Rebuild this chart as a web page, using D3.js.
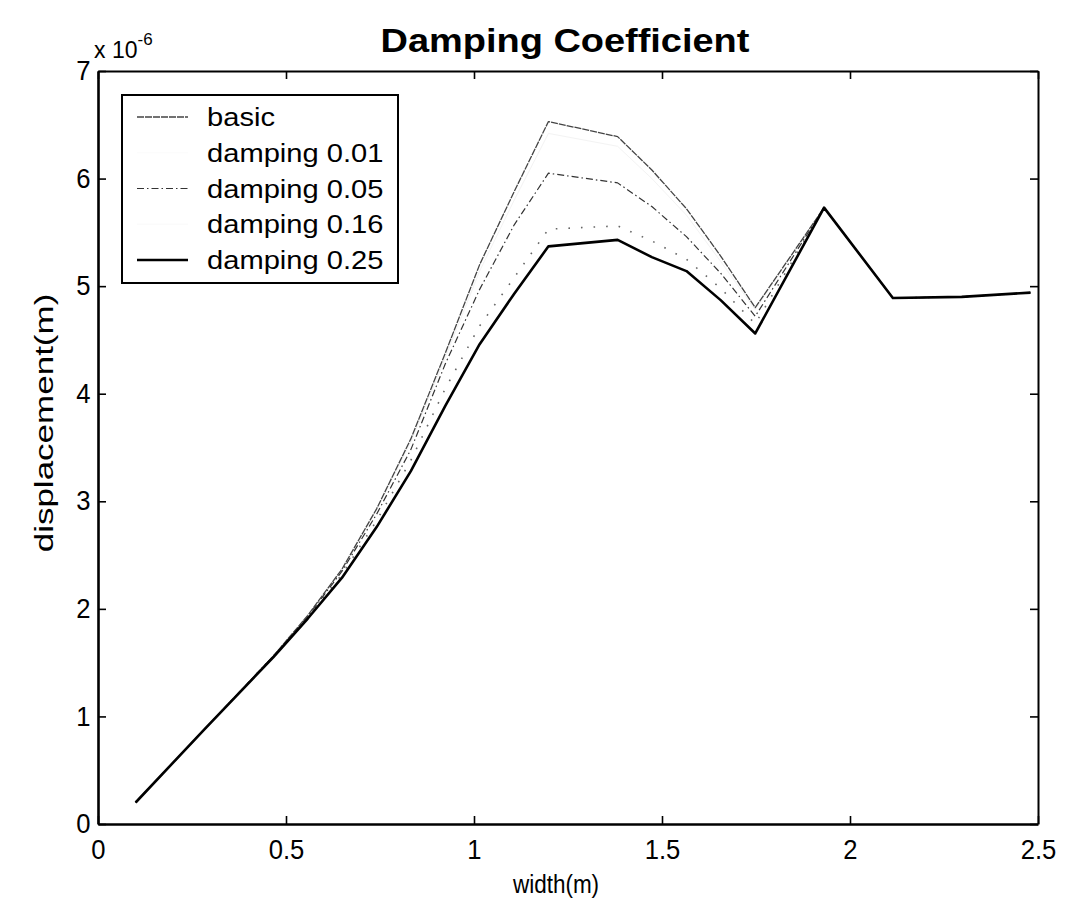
<!DOCTYPE html>
<html><head><meta charset="utf-8">
<script src="https://cdn.jsdelivr.net/npm/d3@7"></script>
<style>body{margin:0;background:#fff} svg{display:block}</style>
</head><body>
<svg id="chart" width="1078" height="907"></svg>
<script>
// width (m)
const widths = [0.100, 0.283, 0.466, 0.558, 0.649, 0.741, 0.832, 0.924, 1.015, 1.107, 1.198, 1.382, 1.473, 1.565, 1.656, 1.748, 1.931, 2.114, 2.297, 2.480];
// displacement (x 1e-6 m)
const basic      = [0.20, 0.88, 1.56, 1.94, 2.37, 2.93, 3.58, 4.38, 5.20, 5.88, 6.53, 6.39, 6.08, 5.72, 5.28, 4.80, 5.73, 4.89, 4.90, 4.94];
const damping001 = [0.20, 0.88, 1.56, 1.94, 2.36, 2.92, 3.55, 4.34, 5.14, 5.80, 6.42, 6.30, 6.00, 5.66, 5.23, 4.78, 5.73, 4.89, 4.90, 4.94];
const damping005 = [0.20, 0.88, 1.56, 1.93, 2.35, 2.88, 3.48, 4.28, 4.97, 5.57, 6.05, 5.96, 5.74, 5.46, 5.12, 4.72, 5.73, 4.89, 4.90, 4.94];
const damping016 = [0.20, 0.88, 1.56, 1.92, 2.32, 2.82, 3.38, 4.05, 4.63, 5.08, 5.53, 5.56, 5.42, 5.25, 4.98, 4.65, 5.73, 4.89, 4.90, 4.94];
const damping025 = [0.20, 0.88, 1.55, 1.91, 2.29, 2.76, 3.28, 3.89, 4.46, 4.93, 5.37, 5.43, 5.27, 5.14, 4.87, 4.56, 5.73, 4.89, 4.90, 4.94];
const seriesNames = ["basic", "damping 0.01", "damping 0.05", "damping 0.16", "damping 0.25"];
const xTicks = [0, 0.5, 1, 1.5, 2, 2.5];
const xTickLabels = ["0", "0.5", "1", "1.5", "2", "2.5"];
const yTicks = [0, 1, 2, 3, 4, 5, 6, 7];
const yTickLabels = ["0", "1", "2", "3", "4", "5", "6", "7"];
const titleText = "Damping Coefficient";
const xLabel = "width(m)";
const yLabel = "displacement(m)";

const seriesValues = [basic, damping001, damping005, damping016, damping025];
const styles = [
  {stroke: "#444", width: 1.3, dash: "7,1"},
  {stroke: "#f3f3f3", width: 1.0, dash: null},
  {stroke: "#333", width: 1.2, dash: "7,3,1.5,3"},
  {stroke: "#666", width: 1.6, dash: "1.6,11"},
  {stroke: "#000", width: 2.6, dash: null}
];

const FONT = "'Liberation Sans', Arial, Helvetica, sans-serif";
const svg = d3.select("#chart");
const L = 98, R = 1038, T = 71, B = 824;
const x = d3.scaleLinear().domain([0, 2.5]).range([L, R]);
const y = d3.scaleLinear().domain([0, 7]).range([B, T]);

function stext(g, px, py, str, size, opts = {}) {
  const rot = opts.rotate ? ` rotate(${opts.rotate})` : "";
  return g.append("text")
    .attr("transform", `translate(${px},${py})${rot} scale(${opts.sx || 1},1)`)
    .attr("text-anchor", opts.anchor || "start")
    .attr("font-family", FONT)
    .attr("font-size", size)
    .attr("font-weight", opts.bold ? "bold" : "normal")
    .attr("fill", "#000")
    .text(str);
}

// lines
const line = d3.line().x((d, i) => x(widths[i])).y(d => y(d));
const order = [1, 3, 2, 0, 4];
order.forEach(k => {
  const s = styles[k];
  const p = svg.append("path").datum(seriesValues[k])
    .attr("d", line).attr("fill", "none")
    .attr("stroke", s.stroke).attr("stroke-width", s.width)
    .attr("stroke-linejoin", "round");
  if (s.dash) p.attr("stroke-dasharray", s.dash);
});

// axes
function styleAxis(g, w) {
  g.select(".domain").attr("stroke", "#000").attr("stroke-width", w);
  g.selectAll(".tick line").attr("stroke", "#000").attr("stroke-width", 1.6);
}
const xAxis = svg.append("g").attr("transform", `translate(0,${B})`)
  .call(d3.axisBottom(x).tickValues(xTicks).tickFormat((d, i) => xTickLabels[i]).tickSize(-8).tickSizeOuter(0).tickPadding(16));
styleAxis(xAxis, 2.6);
xAxis.selectAll("text").attr("font-family", FONT).attr("font-size", 27).attr("fill", "#000")
  .attr("transform", "scale(0.95,1)");
const xTop = svg.append("g").attr("transform", `translate(0,${T})`)
  .call(d3.axisTop(x).tickValues(xTicks).tickFormat("").tickSize(-8).tickSizeOuter(0));
styleAxis(xTop, 2);
const yAxis = svg.append("g").attr("transform", `translate(${L},0)`)
  .call(d3.axisLeft(y).tickValues(yTicks).tickFormat((d, i) => yTickLabels[i]).tickSize(-8).tickSizeOuter(0).tickPadding(8));
styleAxis(yAxis, 2.6);
yAxis.selectAll("text").attr("font-family", FONT).attr("font-size", 27).attr("fill", "#000")
  .attr("transform", "scale(0.95,1)");
const yRight = svg.append("g").attr("transform", `translate(${R},0)`)
  .call(d3.axisRight(y).tickValues(yTicks).tickFormat("").tickSize(-8).tickSizeOuter(0));
styleAxis(yRight, 2);

// title and labels
stext(svg, 565, 52, titleText, 33, {anchor: "middle", bold: true, sx: 1.15});
stext(svg, 556, 893, xLabel, 25, {anchor: "middle", sx: 0.9});
stext(svg, 53, 423, yLabel, 25, {anchor: "middle", rotate: -90, sx: 1.4});
const ex = stext(svg, 94, 58, "x 10", 23, {sx: 1.0});
ex.append("tspan").attr("dy", -13).attr("font-size", 17).text("-6");

// legend
const lg = svg.append("g");
lg.append("rect").attr("x", 122).attr("y", 95).attr("width", 276).attr("height", 188)
  .attr("fill", "#fff").attr("stroke", "#000").attr("stroke-width", 2);
const rowY = d3.scalePoint().domain(seriesNames).range([117, 260]);
seriesNames.forEach((name, k) => {
  const s = styles[k];
  const cy = rowY(name);
  const ln = lg.append("line").attr("x1", 137).attr("x2", 188).attr("y1", cy).attr("y2", cy)
    .attr("stroke", k === 1 || k === 3 ? "#fbfbfb" : s.stroke).attr("stroke-width", s.width);
  if (s.dash && k !== 3) ln.attr("stroke-dasharray", s.dash);
  stext(lg, 207, cy + 9, name, 26, {sx: 1.12});
});
</script>
</body></html>
